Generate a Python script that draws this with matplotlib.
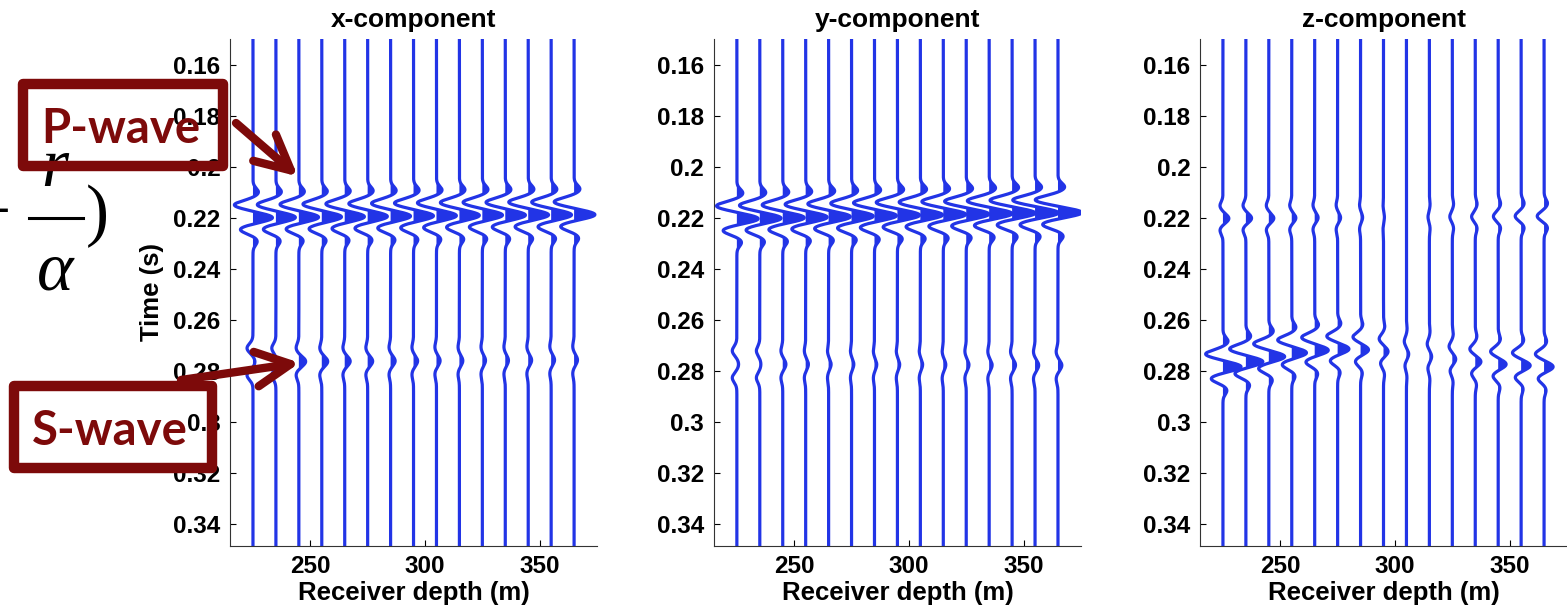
import numpy as np
import matplotlib.pyplot as plt
from matplotlib.patches import Rectangle
from matplotlib.lines import Line2D
from matplotlib.ticker import FuncFormatter

plt.rcParams['font.family'] = ['Liberation Sans', 'DejaVu Sans']
plt.rcParams['font.weight'] = 'bold'

# receiver depths (m)
depth = [225, 235, 245, 255, 265, 275, 285, 295, 305, 315, 325, 335, 345, 355, 365]
components = ['x-component', 'y-component', 'z-component']

# P arrival: peak time (s) and peak amplitude (trace offset, m)
p_time_x = [0.2200, 0.2199, 0.2198, 0.2197, 0.2196, 0.2195, 0.2194, 0.2193, 0.2192, 0.2191, 0.2190, 0.2190, 0.2189, 0.2189, 0.2188]
p_amp_x = [8.6, 8.6, 8.7, 8.7, 8.7, 8.7, 8.8, 8.8, 8.8, 8.8, 8.9, 8.9, 9.0, 9.0, 9.2]
p_time_y = [0.2204, 0.2202, 0.2200, 0.2198, 0.2196, 0.2194, 0.2192, 0.2190, 0.2189, 0.2187, 0.2186, 0.2184, 0.2182, 0.2181, 0.2180]
p_amp_y = [9.4, 9.4, 9.5, 9.5, 9.6, 9.6, 9.7, 9.8, 9.8, 9.9, 10.0, 10.1, 10.2, 10.3, 10.5]
p_time_z = [0.2203, 0.2202, 0.2202, 0.2201, 0.2200, 0.2200, 0.2199, 0.2198, 0.2198, 0.2197, 0.2196, 0.2196, 0.2195, 0.2194, 0.2194]
p_amp_z = [2.6, 2.5, 2.2, 1.8, 1.5, 1.3, 0.9, 0.4, 0.0, -0.6, -1.1, -1.6, -2.1, -2.6, -3.0]

# S arrival on x and y: time, centre lobe and side lobes (m)
s_time_x = [0.2765, 0.2765, 0.2764, 0.2764, 0.2763, 0.2763, 0.2762, 0.2762, 0.2761, 0.2761, 0.2760, 0.2760, 0.2759, 0.2758, 0.2758]
s_mid_x = [0.9, 0.5, 3.0, 2.6, 2.4, 2.2, 2.0, 1.8, 1.6, 1.5, 1.4, 1.4, 1.5, 1.5, 1.5]
s_side_x = [-2.6, -1.8, -1.2, -0.9, -0.8, -0.8, -0.7, -0.7, -0.7, -0.6, -0.6, -0.6, -0.6, -0.6, -0.6]
s_time_y = [0.2775, 0.2775, 0.2775, 0.2775, 0.2775, 0.2775, 0.2776, 0.2776, 0.2776, 0.2777, 0.2777, 0.2778, 0.2778, 0.2779, 0.2779]
s_mid_y = [0.8, 0.5, 1.4, 1.2, 1.1, 1.0, 1.0, 1.0, 1.0, 1.1, 1.2, 1.3, 1.5, 1.6, 1.7]
s_side_y = [-2.0, -1.5, -0.8, -0.6, -0.5, -0.5, -0.5, -0.5, -0.5, -0.5, -0.6, -0.6, -0.7, -0.7, -0.8]
# S arrival on z: peak time and amplitude
s_time_z = [0.2785, 0.2765, 0.2745, 0.2730, 0.2720, 0.2715, 0.2718, 0.2725, 0.2735, 0.2745, 0.2755, 0.2765, 0.2775, 0.2780, 0.2785]
s_amp_z = [8.0, 7.5, 7.0, 6.5, 6.0, 5.0, 3.5, 2.0, 1.0, 1.0, 1.5, 2.5, 3.5, 4.0, 4.0]

# lobe layout of the wavelets: time offsets (s) and relative size
p_lobe_dt = [-0.0100, -0.0050, 0.0, 0.0046, 0.0092]
p_lobe_rel = [0.28, -0.95, 1.0, -0.65, 0.22]
pz_lobe_rel = [0.0, -0.5, 1.0, -0.5, 0.0]
s_lobe_dt = [-0.0053, 0.0, 0.0053]

blue = '#2234e6'
red = '#7d0a0a'


def wavelet(t, t0, amp, dts, rel, width):
    w = np.zeros_like(t)
    for dt, r in zip(dts, rel):
        w += amp * r * np.exp(-((t - t0 - dt) / width) ** 2)
    return w


t = np.linspace(0.15, 0.3486, 2500)

fig = plt.figure(figsize=(15.67, 6.10), dpi=100)
lefts = [0.1468, 0.4556, 0.7658]
axes = []
for k, name in enumerate(components):
    ax = fig.add_axes([lefts[k], 0.1057, 0.2342, 0.8299])
    for i, d in enumerate(depth):
        if k == 0:
            w = wavelet(t, p_time_x[i], p_amp_x[i], p_lobe_dt, p_lobe_rel, 0.0022)
            w += wavelet(t, s_time_x[i], 1.0, s_lobe_dt, [s_side_x[i], s_mid_x[i], s_side_x[i]], 0.0025)
        elif k == 1:
            w = wavelet(t, p_time_y[i], p_amp_y[i], p_lobe_dt, p_lobe_rel, 0.0022)
            w += wavelet(t, s_time_y[i], 1.0, s_lobe_dt, [s_side_y[i], s_mid_y[i], s_side_y[i]], 0.0025)
        else:
            w = wavelet(t, p_time_z[i], p_amp_z[i], p_lobe_dt, pz_lobe_rel, 0.0022)
            w += wavelet(t, s_time_z[i], s_amp_z[i], p_lobe_dt, p_lobe_rel, 0.0022)
        ax.fill_betweenx(t, d, d + w, where=w > 0, interpolate=True, color=blue, lw=0)
        ax.plot(d + w, t, color=blue, lw=2.3)
    ax.set_xlim(215, 375)
    ax.set_ylim(0.3486, 0.15)
    ax.set_xticks([250, 300, 350])
    ax.set_yticks(np.arange(0.16, 0.345, 0.02))
    ax.yaxis.set_major_formatter(FuncFormatter(lambda v, p: '%g' % round(v, 3)))
    for s in ['top', 'right']:
        ax.spines[s].set_visible(False)
    for s in ['left', 'bottom']:
        ax.spines[s].set_color('#333333')
        ax.spines[s].set_linewidth(0.8)
    ax.tick_params(direction='in', length=4, width=0.8, labelsize=17.5, pad=7)
    ax.set_title(name, fontsize=19, fontweight='bold', pad=9)
    ax.set_xlabel('Receiver depth (m)', fontsize=18.5, fontweight='bold', labelpad=2)
    axes.append(ax)

axes[0].set_ylabel('Time (s)', fontsize=18.5, fontweight='bold')
axes[0].yaxis.set_label_coords(-0.18, 0.5)

W, H = 1567.0, 610.0

# piece of equation on the left edge
fig.text(11 / W, 1 - 233 / H, '\u2212', fontsize=50, family='Liberation Serif', fontweight='normal', ha='right', va='baseline')
fig.text(55 / W, 1 - 186 / H, 'r', fontsize=50, family='Liberation Serif', style='italic', fontweight='normal', ha='center', va='baseline')
fig.add_artist(Line2D([29 / W, 83 / W], [1 - 218 / H, 1 - 218 / H], lw=2.2, color='black'))
fig.text(55 / W, 1 - 290 / H, '\u03b1', fontsize=50, family='Liberation Serif', style='italic', fontweight='normal', ha='center', va='baseline')
fig.text(97 / W, 1 - 233 / H, ')', fontsize=50, family='Liberation Serif', fontweight='normal', ha='center', va='baseline')

# labelled boxes and arrows
fig.add_artist(Rectangle((22.5 / W, 1 - 165.5 / H), 201 / W, 81 / H, transform=fig.transFigure,
                         fill=False, lw=7.5, ec=red, joinstyle='round', zorder=6))
fig.add_artist(Rectangle((13.5 / W, 1 - 468 / H), 198.5 / W, 82 / H, transform=fig.transFigure,
                         fill=False, lw=7.5, ec=red, joinstyle='round', zorder=6))
fig.text(121 / W, 1 - 143 / H, 'P-wave', fontsize=34, color=red, fontweight='bold',
         family=['Lato', 'DejaVu Sans'], ha='center', va='baseline', zorder=7)
fig.text(110 / W, 1 - 445 / H, 'S-wave', fontsize=34, color=red, fontweight='bold',
         family=['Lato', 'DejaVu Sans'], ha='center', va='baseline', zorder=7)

arrow = dict(arrowstyle='->,head_length=1.0,head_width=0.5', lw=6, color=red,
             mutation_scale=25, shrinkA=0, shrinkB=0)
axes[0].annotate('', xy=(244.6, 0.2038), xycoords='data', xytext=(236 / W, 1 - 123 / H),
                 textcoords='figure fraction', arrowprops=arrow, annotation_clip=False, zorder=10)
axes[0].annotate('', xy=(245.4, 0.2769), xycoords='data', xytext=(181 / W, 1 - 380 / H),
                 textcoords='figure fraction', arrowprops=arrow, annotation_clip=False, zorder=10)

fig.savefig('out.png', dpi=100)
